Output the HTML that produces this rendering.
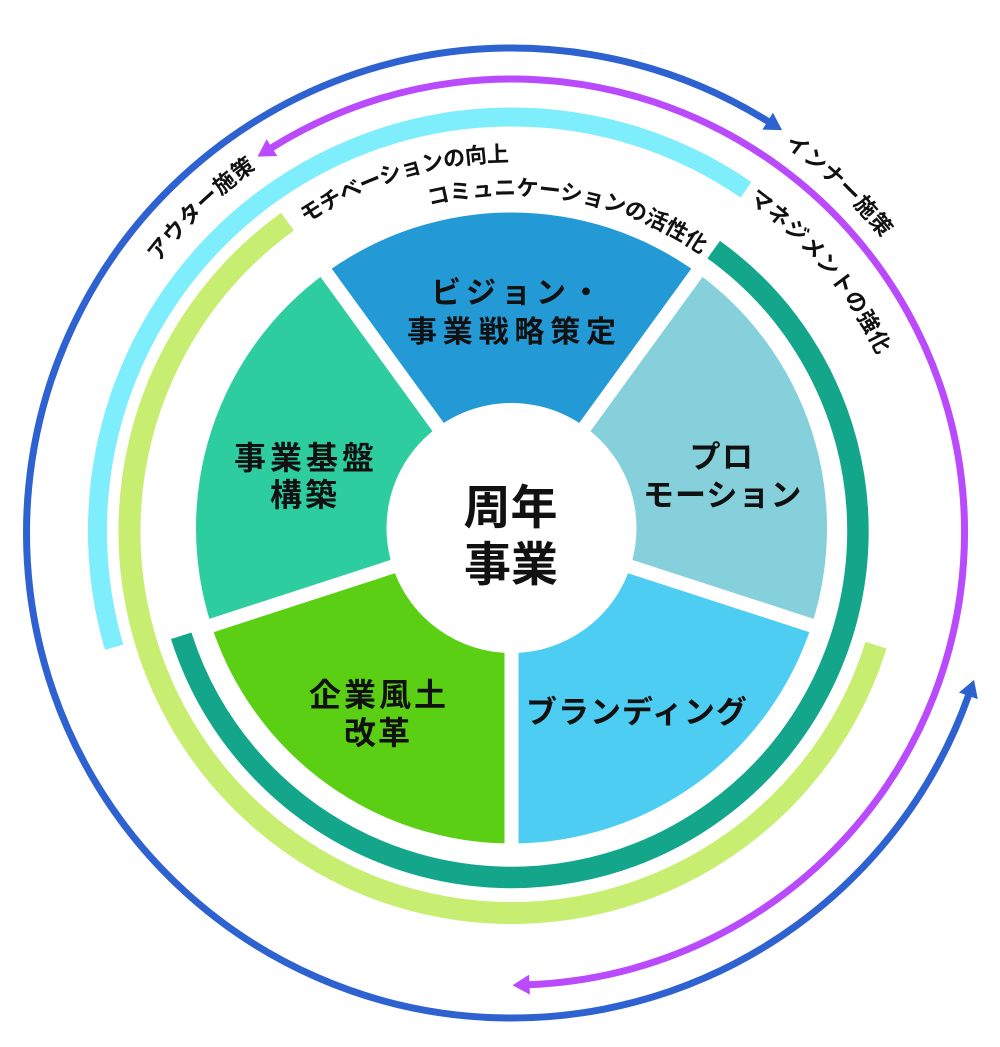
<!DOCTYPE html>
<html>
<head>
<meta charset="utf-8">
<style>
  html,body{margin:0;padding:0;background:#fff;}
  svg{display:block;}
  text{font-family:"Liberation Sans","Noto Sans CJK JP",sans-serif;font-weight:700;fill:#111;}
</style>
</head>
<body>
<svg width="1000" height="1047" viewBox="0 0 1000 1047" xmlns="http://www.w3.org/2000/svg">
  <defs>
    <marker id="ab" markerUnits="userSpaceOnUse" viewBox="0 -10 17 20" refX="1" refY="0" markerWidth="17" markerHeight="20" orient="auto-start-reverse" overflow="visible">
      <path d="M0,-10 L17,0 L0,10 Z" fill="#2d62d0"/>
    </marker>
    <marker id="ap" markerUnits="userSpaceOnUse" viewBox="0 -10 17 20" refX="1" refY="0" markerWidth="17" markerHeight="20" orient="auto-start-reverse" overflow="visible">
      <path d="M0,-10 L17,0 L0,10 Z" fill="#b94bfd"/>
    </marker>
    <path id="t1" d="M143.4,778.3 A443.5,443.5 0 0 1 772.8,172.6" fill="none"/>
    <path id="t2" d="M230.5,151.2 A472.5,472.5 0 0 1 905.5,791.7" fill="none"/>
    <path id="t3" d="M144.8,576.6 A369.5,369.5 0 0 1 840.4,362.7" fill="none"/>
    <path id="t4" d="M196.4,415.7 A335.5,335.5 0 0 1 847.0,531.6" fill="none"/>
    <path id="t5" d="M308.4,179.0 A406.5,406.5 0 0 1 822.9,792.3" fill="none"/>
  </defs>

  <rect x="0" y="0" width="1000" height="1047" fill="#fff"/>

  <!-- Outer arrows -->
  <path d="M968.7,694.9 A485,485 0 1 1 768.5,121.7" fill="none" stroke="#2d62d0" stroke-width="7" marker-start="url(#ab)" marker-end="url(#ab)"/>
  <path d="M271.1,148.1 A453,453 0 1 1 528.5,984.7" fill="none" stroke="#b94bfd" stroke-width="7" marker-start="url(#ap)" marker-end="url(#ap)"/>

  <!-- Rings -->
  <path d="M114.1,647.2 A414,414 0 0 1 746.0,189.8" fill="none" stroke="#7eedfc" stroke-width="19"/>
  <path d="M876.0,645.2 A382,382 0 1 1 287.5,221.6" fill="none" stroke="#c7ee71" stroke-width="22"/>
  <path d="M713.7,249.6 A346.5,346.5 0 1 1 181.2,635.8" fill="none" stroke="#14a68a" stroke-width="21.5"/>

  <!-- Pie segments -->
  <path d="M511.5,528 L326.05,272.75 A315.5,315.5 0 0 1 696.95,272.75 Z" fill="#2399d6"/>
  <path d="M511.5,528 L696.95,272.75 A315.5,315.5 0 0 1 811.56,625.5 Z" fill="#85d0da"/>
  <path d="M511.5,528 L811.56,625.5 A315.5,315.5 0 0 1 511.5,843.5 Z" fill="#4ecdf3"/>
  <path d="M511.5,528 L511.5,843.5 A315.5,315.5 0 0 1 211.44,625.5 Z" fill="#5bcf14"/>
  <path d="M511.5,528 L211.44,625.5 A315.5,315.5 0 0 1 326.05,272.75 Z" fill="#2ecd9f"/>

  <!-- Separators -->
  <g stroke="#fff" stroke-width="14" stroke-linecap="butt">
    <line x1="511.5" y1="528" x2="317.5" y2="261.0"/>
    <line x1="511.5" y1="528" x2="705.5" y2="261.0"/>
    <line x1="511.5" y1="528" x2="825.35" y2="630.0"/>
    <line x1="511.5" y1="528" x2="511.5" y2="858"/>
    <line x1="511.5" y1="528" x2="197.65" y2="630.0"/>
  </g>
  <circle cx="511.5" cy="528" r="125" fill="#fff"/>

  <!-- Arc labels -->
  <text font-size="22" text-anchor="middle" style="letter-spacing:0.9px"><textPath href="#t1" startOffset="50%">アウター施策</textPath></text>
  <text font-size="22" text-anchor="middle" style="letter-spacing:0.6px"><textPath href="#t2" startOffset="50%">インナー施策</textPath></text>
  <text font-size="22" text-anchor="middle" style="letter-spacing:-0.5px"><textPath href="#t3" startOffset="50%">モチベーションの向上</textPath></text>
  <text font-size="22" text-anchor="middle" style="letter-spacing:-0.1px"><textPath href="#t4" startOffset="50%">コミュニケーションの活性化</textPath></text>
  <text font-size="22" text-anchor="middle" style="letter-spacing:0.8px"><textPath href="#t5" startOffset="50%">マネジメントの強化</textPath></text>

  <!-- Segment labels -->
  <text x="431" y="303" font-size="30" style="letter-spacing:5px">ビジョン・</text>
  <text x="407" y="342" font-size="30" style="letter-spacing:5.8px">事業戦略策定</text>

  <text x="234" y="469" font-size="32" style="letter-spacing:4px">事業基盤</text>
  <text x="270" y="506" font-size="32" style="letter-spacing:3px">構築</text>

  <text x="689.5" y="468" font-size="31" style="letter-spacing:1.5px">プロ</text>
  <text x="643" y="506" font-size="31" style="letter-spacing:1px">モーション</text>

  <text x="309" y="706" font-size="32" style="letter-spacing:3px">企業風土</text>
  <text x="344" y="744" font-size="32" style="letter-spacing:2px">改革</text>

  <text x="526" y="723" font-size="31" style="letter-spacing:1px">ブランディング</text>

  <!-- Center -->
  <text x="510.5" y="524" font-size="47" text-anchor="middle">周年</text>
  <text x="511" y="581" font-size="47" text-anchor="middle">事業</text>
</svg>
</body>
</html>
